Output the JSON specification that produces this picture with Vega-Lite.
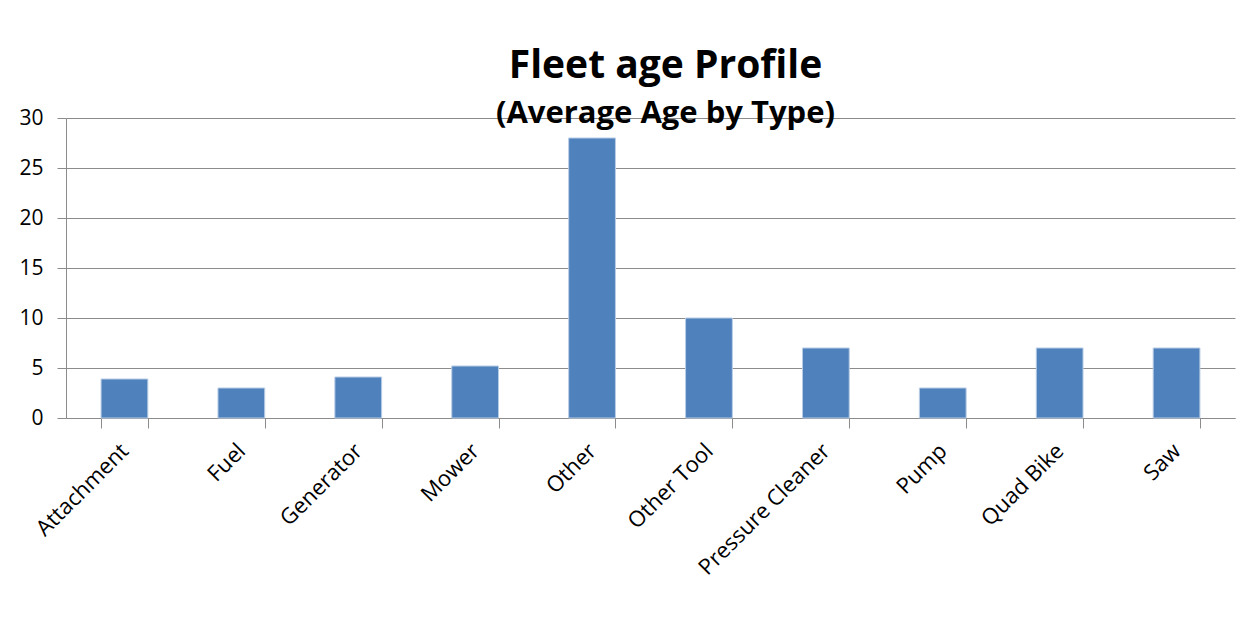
{
  "$schema": "https://vega.github.io/schema/vega-lite/v6.json",
  "width": 1169,
  "height": 300,
  "autosize": {"type": "none"},
  "padding": {"left": 66, "top": 118, "right": 22, "bottom": 219},
  "background": "white",
  "title": {
    "text": "Fleet age Profile",
    "subtitle": "(Average Age by Type)",
    "anchor": "middle",
    "frame": "group",
    "dx": 15,
    "offset": -22,
    "font": "Open Sans",
    "fontSize": 39,
    "fontWeight": "bold",
    "color": "black",
    "subtitleFont": "Open Sans",
    "subtitleFontSize": 31,
    "subtitleFontWeight": "bold",
    "subtitleColor": "black",
    "subtitlePadding": 13
  },
  "data": {
    "values": [
      {"type": "Attachment", "age": 3.9},
      {"type": "Fuel", "age": 3.0},
      {"type": "Generator", "age": 4.1},
      {"type": "Mower", "age": 5.2},
      {"type": "Other", "age": 28.0},
      {"type": "Other Tool", "age": 10.0},
      {"type": "Pressure Cleaner", "age": 7.0},
      {"type": "Pump", "age": 3.0},
      {"type": "Quad Bike", "age": 7.0},
      {"type": "Saw", "age": 7.0}
    ]
  },
  "mark": {"type": "bar", "color": "#4f81bd", "stroke": "#b9cde5", "strokeWidth": 1},
  "encoding": {
    "x": {
      "field": "type",
      "type": "nominal",
      "sort": null,
      "title": null,
      "scale": {"paddingInner": 0.6, "paddingOuter": 0.3},
      "axis": {
        "labelAngle": -45,
        "labelAlign": "right",
        "labelBaseline": "middle",
        "labelFont": "Open Sans",
        "labelFontSize": 22,
        "labelColor": "black",
        "labelPadding": 19,
        "tickBand": "extent",
        "tickSize": 10,
        "tickColor": "#8c8c8c",
        "domainColor": "#8c8c8c",
        "labelLimit": 300
      }
    },
    "y": {
      "field": "age",
      "type": "quantitative",
      "title": null,
      "scale": {"domain": [0, 30], "nice": false},
      "axis": {
        "values": [0, 5, 10, 15, 20, 25, 30],
        "grid": true,
        "gridColor": "#8c8c8c",
        "tickSize": 9,
        "tickColor": "#8c8c8c",
        "domainColor": "#8c8c8c",
        "labelFont": "Open Sans",
        "labelFontSize": 21,
        "labelColor": "black",
        "labelPadding": 14
      }
    }
  },
  "config": {"view": {"stroke": null}}
}
